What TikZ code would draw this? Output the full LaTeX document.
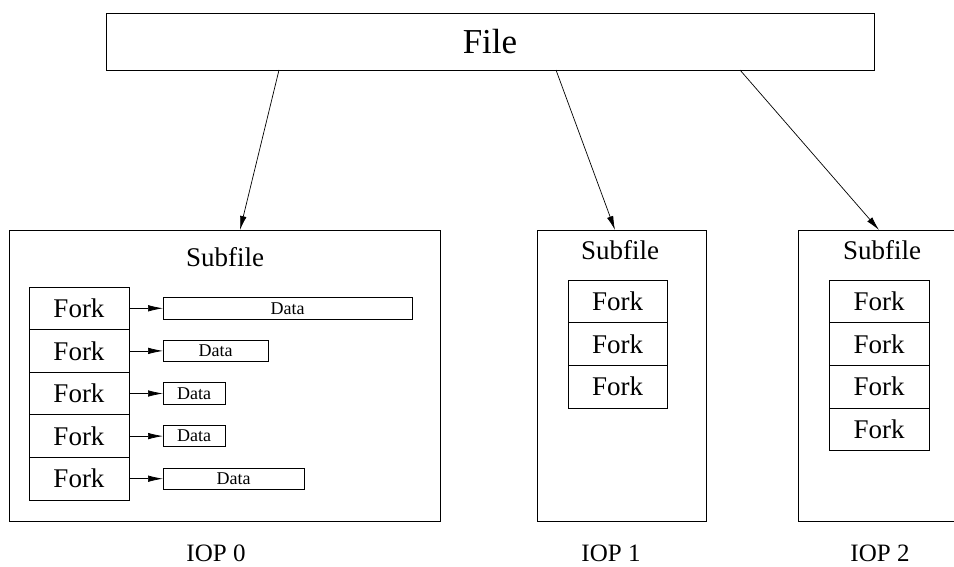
\documentclass[tikz,border=0pt]{standalone}
\usepackage{fontspec}
\setmainfont{Liberation Serif}
\usetikzlibrary{arrows.meta,calc}
\begin{document}
\begin{tikzpicture}[x=1pt,y=-1pt,
  box/.style={draw,line width=0.8pt,inner sep=0pt,outer sep=0pt},
  forkbox/.style={box,minimum width=100pt,minimum height=42.6pt,font=\fontsize{27}{30}\selectfont},
  databox/.style={box,anchor=west,minimum height=21.5pt,font=\fontsize{18}{20}\selectfont},
  lbl/.style={anchor=base,inner sep=0pt,font=\fontsize{27}{30}\selectfont},
  ioplbl/.style={anchor=base,inner sep=0pt,font=\fontsize{25}{28}\selectfont},
  conn/.style={line width=0.7pt,-{Latex[length=14pt,width=6.5pt]}},
  dconn/.style={line width=0.7pt,-{Latex[length=15pt,width=6.5pt]}}]
\useasboundingbox (0,0) rectangle (954,567);
\clip (0,0) rectangle (954,567);
% File
\node[box,minimum width=768pt,minimum height=57pt,font=\fontsize{35}{38}\selectfont] (file) at (490,41.5) {File};
% Subfile boxes
\node[box,minimum width=431pt,minimum height=291pt] (sub0) at (224.5,375.5) {};
\node[box,minimum width=169pt,minimum height=291pt] (sub1) at (621.5,375.5) {};
\node[box,minimum width=202pt,minimum height=291pt] (sub2) at (899,375.5) {};
\node[lbl] (st0) at (225,266) {Subfile};
\node[lbl] (st1) at (620,259) {Subfile};
\node[lbl] (st2) at (882,259) {Subfile};
% Left forks
\node[forkbox] (f01) at (79,308.3) {Fork};
\node[forkbox] (f02) at (79,350.9) {Fork};
\node[forkbox] (f03) at (79,393.5) {Fork};
\node[forkbox] (f04) at (79,436.1) {Fork};
\node[forkbox] (f05) at (79,478.7) {Fork};
% Data
\node[databox,minimum width=249pt] (d1) at (163,308.3) {Data};
\node[databox,minimum width=105pt] (d2) at (163,350.9) {Data};
\node[databox,minimum width=62pt] (d3) at (163,393.5) {Data};
\node[databox,minimum width=62pt] (d4) at (163,436.1) {Data};
\node[databox,minimum width=141pt] (d5) at (163,478.7) {Data};
\foreach \i in {1,...,5}{\draw[dconn] (f0\i.east) -- (d\i.west);}
% Middle forks
\node[forkbox,minimum width=99pt] (f11) at (617.5,301.35) {Fork};
\node[forkbox,minimum width=99pt] (f12) at (617.5,344.05) {Fork};
\node[forkbox,minimum width=99pt] (f13) at (617.5,386.75) {Fork};
% Right forks
\node[forkbox] (f21) at (879,301.35) {Fork};
\node[forkbox] (f22) at (879,344.05) {Fork};
\node[forkbox] (f23) at (879,386.75) {Fork};
\node[forkbox] (f24) at (879,429.45) {Fork};
% Arrows from File
\draw[conn] ([xshift=173pt]file.south west) -- ([xshift=231pt]sub0.north west);
\draw[conn] ([xshift=450pt]file.south west) -- ([xshift=78pt]sub1.north west);
\draw[conn] ([xshift=634pt]file.south west) -- ([xshift=81pt]sub2.north west);
% IOP labels
\node[ioplbl] (iop0) at (216,561) {IOP 0};
\node[ioplbl] (iop1) at (611,561) {IOP 1};
\node[ioplbl] (iop2) at (880,561) {IOP 2};
\end{tikzpicture}
\end{document}
